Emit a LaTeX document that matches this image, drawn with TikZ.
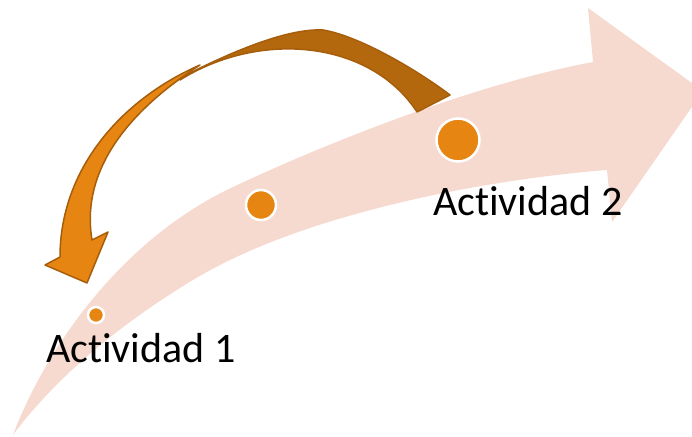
\documentclass[tikz,border=0pt]{standalone}
\usepackage{fontspec}
\setmainfont[Ligatures=NoCommon]{Carlito}
\usepackage{tikz}
\usetikzlibrary{positioning}
\definecolor{trackpink}{RGB}{246,218,207}
\definecolor{loopbrown}{RGB}{180,104,14}
\definecolor{looporange}{RGB}{230,133,18}
\definecolor{loopedge}{RGB}{166,94,12}

\begin{document}
\begin{tikzpicture}[
        x=1pt, y=-1pt,
        dot/.style={circle, draw=white, line width=2.5pt, fill=looporange, inner sep=0pt, minimum size=#1},
        stage/.style={inner sep=0pt, anchor=base west, font=\fontsize{42}{50}\selectfont},
        band/.style={fill=#1, draw=loopedge, line width=1.5pt, line join=round}
    ]
        \useasboundingbox (0,0) rectangle (692,436);
        \clip (0,0) rectangle (692,436);

        % big pale arrow
        \fill[trackpink] (13,435) .. controls (45,350) and (120,240) .. (233,187)
            .. controls (320,146) and (470,85) .. (593,62)
            -- (588,8) -- (703,91) -- (612,222) -- (607,170)
            .. controls (480,180) and (300,215) .. (193,280)
            .. controls (110,330) and (50,385) .. (13,435) -- cycle;

        % curved return arrow
        \filldraw[band=loopbrown] (450,95) .. controls (420,72) and (360,36) .. (323,30)
            .. controls (285,28) and (225,55) .. (180,78)
            -- (180,80) .. controls (260,30) and (370,40) .. (417,112) -- cycle;
        \filldraw[band=looporange] (200,65) .. controls (120,100) and (60,170) .. (60,257)
            -- (45,265) -- (87,283) -- (108,232) -- (92,240)
            .. controls (82,180) and (115,120) .. (200,65) -- cycle;

        \node[dot=16pt] (d1) at (96,315) {};
        \node[dot=30pt] (d2) at (261,205) {};
        \node[dot=43pt] (d3) at (458,140) {};

        \node[stage] (s1) at (46,362) {Actividad 1};
        \node[stage] (s2) at (433,215) {Actividad 2};
    \end{tikzpicture}
\end{document}
